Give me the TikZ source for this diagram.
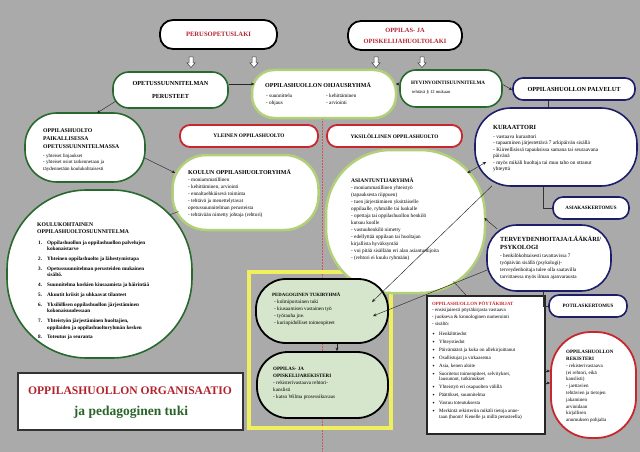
\documentclass[tikz,border=0pt]{standalone}
\usepackage{fontspec}
\setmainfont{Liberation Serif}
\newfontfamily\symf{DejaVu Sans}
\usetikzlibrary{arrows.meta}
\definecolor{bg}{RGB}{170,170,170}
\definecolor{dkgreen}{RGB}{40,105,45}
\definecolor{ltgreen}{RGB}{178,208,120}
\definecolor{navy}{RGB}{28,30,105}
\definecolor{myred}{RGB}{200,40,45}
\definecolor{pedfill}{RGB}{214,230,204}
\definecolor{yel}{RGB}{240,240,95}
\definecolor{titlered}{RGB}{178,34,45}
\definecolor{titlegreen}{RGB}{40,100,40}
\newcommand{\bl}{\makebox[7pt][l]{{\symf\fontsize{3.6}{4}\selectfont ✦}}}
\begin{document}
\begin{tikzpicture}[x=1pt,y=-1pt,
  bx/.style={fill=white, inner sep=0pt, line width=1.6pt},
  lawb/.style={bx, draw=black, line width=1.8pt},
  dgb/.style={bx, draw=dkgreen},
  lgb/.style={bx, draw=ltgreen, line width=2.5pt},
  nvb/.style={bx, draw=navy},
  rdb/.style={bx, draw=myred, line width=1.8pt},
  pedb/.style={fill=pedfill, draw=black, line width=1.8pt, inner sep=0pt},
  it/.style={anchor=north west, align=left, inner sep=0pt, font=\fontsize{5.2}{7}\selectfont},
  tt/.style={anchor=north west, align=left, inner sep=0pt, font=\bfseries\fontsize{6}{7.5}\selectfont},
  con/.style={-{Stealth[length=3.5pt,width=3pt]}, line width=0.45pt, draw=black!85},
  dcon/.style={{Stealth[length=3.5pt,width=3pt]}-{Stealth[length=3.5pt,width=3pt]}, line width=0.45pt, draw=black!85},
  ln/.style={line width=0.45pt, draw=black!80},
  sepline/.style={draw=myred!80, line width=0.5pt, dash pattern=on 1.5pt off 1.5pt},
  harrow/.pic={\draw[fill=white, draw=black!75, line width=0.5pt] (-2,0) -- (2,0) -- (2,6) -- (4,6) -- (0,10.5) -- (-4,6) -- (-2,6) -- cycle;}
]
\fill[bg] (0,0) rectangle (640,452);
\useasboundingbox (0,0) rectangle (640,452);
\coordinate (septop) at (322,118);
\coordinate (sepbot) at (322,452);
\draw[sepline] (septop) -- (sepbot);
\draw[draw=yel, line width=3.5pt] (249,272) rectangle (391,428);

% laws
\node[lawb, minimum width=117pt, minimum height=29pt, rounded corners=13pt, font=\bfseries\fontsize{6.6}{7}\selectfont, text=titlered] (perus) at (218.5,34.5) {PERUSOPETUSLAKI};
\node[lawb, minimum width=114pt, minimum height=29pt, rounded corners=13pt, align=center, font=\bfseries\fontsize{6.4}{11}\selectfont, text=titlered] (oppilaki) at (405,35.5) {OPPILAS- JA\\OPISKELIJAHUOLTOLAKI};
\pic at (191,57) {harrow};
\pic at (254,57) {harrow};
\pic at (376,57) {harrow};
\pic at (422,57) {harrow};

% boxes
\node[dgb, minimum width=115pt, minimum height=36pt, rounded corners=16pt, align=center, font=\bfseries\fontsize{6.2}{13}\selectfont] (perusteet) at (170.5,90) {OPETUSSUUNNITELMAN\\PERUSTEET};
\node[lgb, minimum width=144pt, minimum height=48pt, rounded corners=22pt] (ohjaus) at (324,94) {};
\node[dgb, minimum width=102pt, minimum height=37pt, rounded corners=16pt] (hyvin) at (451,88.5) {};
\node[nvb, minimum width=122pt, minimum height=22pt, rounded corners=10pt, font=\bfseries\fontsize{6.2}{7}\selectfont] (palvelut) at (574,89) {OPPILASHUOLLON PALVELUT};
\node[nvb, minimum width=162pt, minimum height=78pt, rounded corners=36pt] (kura) at (556,147) {};
\node[nvb, minimum width=76pt, minimum height=22pt, rounded corners=10pt, font=\bfseries\fontsize{5}{6}\selectfont] (asiakas) at (591,208) {ASIAKASKERTOMUS};
\node[nvb, minimum width=124pt, minimum height=66pt, rounded corners=30pt] (terv) at (549,258) {};
\node[nvb, minimum width=78pt, minimum height=22pt, rounded corners=10pt, font=\bfseries\fontsize{5}{6}\selectfont] (potilas) at (588,306) {POTILASKERTOMUS};
\node[rdb, minimum width=138pt, minimum height=22pt, rounded corners=10pt, font=\bfseries\fontsize{5.3}{6}\selectfont] (yleinen) at (249,136) {YLEINEN OPPILASHUOLTO};
\node[rdb, minimum width=135pt, minimum height=22pt, rounded corners=10pt, font=\bfseries\fontsize{5.3}{6}\selectfont] (yksil) at (394.5,136) {YKSILÖLLINEN OPPILASHUOLTO};
\node[lgb, minimum width=146pt, minimum height=75pt, rounded corners=34pt] (koulun) at (245.5,192.5) {};
\node[dgb, minimum width=120pt, minimum height=69pt, rounded corners=32pt] (paikal) at (85,147.5) {};
\node[dgb, minimum width=185pt, minimum height=168pt, rounded corners=80pt] (kk) at (99.5,274) {};
\node[lgb, minimum width=159pt, minimum height=143pt, rounded corners=65pt] (asiant) at (405.5,221.5) {};
\node[pedb, minimum width=132pt, minimum height=64pt, rounded corners=30pt] (pedag) at (322,311) {};
\node[pedb, minimum width=131pt, minimum height=66pt, rounded corners=31pt] (oppreg) at (322.5,385) {};
\node[draw=black!85, line width=1.8pt, fill=white, inner sep=0pt, minimum width=118pt, minimum height=138pt] (poyta) at (486,365) {};
\node[rdb, minimum width=85pt, minimum height=106pt, rounded corners=40pt] (rekist) at (593.5,385) {};
\node[draw=black!80, line width=1.6pt, fill=white, inner sep=0pt, minimum width=225pt, minimum height=57pt] (titlebox) at (130.5,401.5) {};

% connectors
\draw[con] ([shift={(0,-6)}]perusteet.east) -- ([shift={(3.6,-10)}]ohjaus.west);
\draw[con] ([shift={(0,-4.5)}]hyvin.west) -- ([shift={(-1.5,-10)}]ohjaus.east);
\draw[con] ([shift={(0,-4)}]hyvin.east) -- ([shift={(0,1)}]palvelut.west);
\draw[ln] ([shift={(-26,0)}]palvelut.south) -- ([shift={(-8,0)}]kura.north);
\draw[ln] ([shift={(-13,0)}]kura.south) |- (asiakas.west);
\draw[ln] ([shift={(-6,0)}]terv.south) |- (potilas.west);
\draw[dcon] ([shift={(-19,-48.5)}]asiant.east) -- ([shift={(12,15)}]kura.west);
\draw[con] ([shift={(11,-29)}]terv.west) -- ([shift={(-2,-3.5)}]asiant.east);
\draw[con] ([shift={(-64,-1)}]kura.south) -- ([shift={(50,-9)}]pedag.center);
\draw[con] ([shift={(1,12)}]terv.west) -- ([shift={(51,5)}]pedag.center);
\draw[ln] ([shift={(48,60)}]asiant.center) -- ([shift={(-20,0)}]poyta.north);
\draw[con] ([shift={(0,6)}]poyta.east) -- ([shift={(0,-14)}]rekist.west);
\draw[con] ([shift={(0,18)}]poyta.east) -- ([shift={(0,-2)}]rekist.west);
\draw[con] ([shift={(-1,10.5)}]paikal.east) -- ([shift={(4,-19.5)}]koulun.west);
\draw[con] ([shift={(-54.5,11)}]perusteet.center) -- ([shift={(12,-34.5)}]paikal.center);
\draw[ln] ([shift={(70,-59)}]kk.center) -- ([shift={(-67,19)}]koulun.center);
\draw[con] ([shift={(15,0)}]pedag.south) -- ([shift={(14.5,0)}]oppreg.north);

% texts
\node[tt] (ohjT) at (265,82.3) {\strut OPPILASHUOLLON OHJAUSRYHMÄ};
\node[it] (ohjA) at (266,92.1) {\strut- suunnittelu\\- ohjaus};
\node[it] (ohjB) at (326,92.1) {\strut- kehittäminen\\- arviointi};

\node[tt, font=\bfseries\fontsize{5.1}{6}\selectfont] (hyvT) at (411,79.8) {\strut HYVINVOINTISUUNNITELMA};
\node[it, font=\fontsize{4.6}{6}\selectfont] (hyvA) at (412,89) {\strut tehtävä § 12 mukaan};

\node[tt, font=\bfseries\fontsize{6.3}{7.5}\selectfont] (kuraT) at (493,123.7) {\strut KURAATTORI};
\node[it, font=\fontsize{5.3}{6.5}\selectfont] (kuraA) at (493,133.5) {\strut- vastaava kuraattori\\- tapaaminen järjestettävä 7 arkipäivän sisällä\\- Kiireellisissä tapauksissa samana tai seuraavana\\päivänä\\- myös mikäli huoltaja tai muu taho on ottanut\\yhteyttä};

\node[tt, font=\bfseries\fontsize{6.3}{8}\selectfont] (tervT) at (500,235.4) {\strut TERVEYDENHOITAJA/LÄÄKÄRI/\\PSYKOLOGI};
\node[it] (tervA) at (500,252.1) {\strut- henkilökohtaisesti tavattavissa 7\\työpäivän sisällä (psykologi)-\\terveydenhoitaja tulee olla saatavilla\\tarvittaessa myös ilman ajanvarausta};

\node[tt] (koulT) at (188,168.75) {\strut KOULUN OPPILASHUOLTORYHMÄ};
\node[it] (koulA) at (188,176.1) {\strut- moniammatillinen\\- kehittäminen, arviointi\\- ennaltaehkäisevä toiminta\\- tehtävä ja menettelytavat\\opetussuunnitelman perusteista\\- tehtävään nimetty johtaja (rehtori)};

\node[tt, font=\bfseries\fontsize{5.7}{8}\selectfont] (paikT) at (43,126.4) {\strut OPPILASHUOLTO\\PAIKALLISESSA\\OPETUSSUUNNITELMASSA};
\node[it, font=\fontsize{5}{6.5}\selectfont] (paikA) at (43,152.45) {\strut- yhteiset linjaukset\\- yhteiset osiot tarkennetaan ja\\täydennetään koulukohtaisesti};

\node[tt, font=\bfseries\fontsize{5.7}{7}\selectfont] (kkT) at (37,221.1) {\strut KOULUKOHTAINEN\\OPPILASHUOLTOSUUNNITELMA};
\node[it, font=\bfseries\fontsize{5.2}{6.5}\selectfont] (kkA) at (38,239.45) {\strut\makebox[9pt][l]{1.}Oppilashuollon ja oppilashuollon palvelujen\\\hspace*{9pt}kokonaistarve\\[3.3pt]
\makebox[9pt][l]{2.}Yhteinen oppilashuolto ja lähestymistapa\\[3.3pt]
\makebox[9pt][l]{3.}Opetussuunnitelman perusteiden mukainen\\\hspace*{9pt}sisältö.\\[3.3pt]
\makebox[9pt][l]{4.}Suunnitelma koskien kiusaamista ja häirintää\\[3.3pt]
\makebox[9pt][l]{5.}Akuutit kriisit ja uhkaavat tilanteet\\[3.3pt]
\makebox[9pt][l]{6.}Yksilöllisen oppilashuollon järjestäminen\\\hspace*{9pt}kokonaisuudessaan\\[3.3pt]
\makebox[9pt][l]{7.}Yhteistyön järjestäminen huoltajien,\\\hspace*{9pt}oppilaiden ja oppilashuoltoryhmän kesken\\[3.3pt]
\makebox[9pt][l]{8.}Toteutus ja seuranta};

\node[tt, font=\bfseries\fontsize{5.5}{7}\selectfont] (asT) at (351,177.25) {\strut ASIANTUNTIJARYHMÄ};
\node[it] (asA) at (351,184.6) {\strut- moniammatillinen yhteistyö\\(tapauksesta riippuen)\\- tuen järjestäminen yksittäiselle\\oppilaalle, ryhmälle tai luokalle\\- opettaja tai oppilashuollon henkilö\\kutsuu koolle\\- vastuuhenkilö nimetty\\- edellyttää oppilaan tai huoltajan\\kirjallista hyväksyntää\\- voi pitää sisällään eri alan asiantuntijoita\\- (rehtori ei kuulu ryhmään)};

\node[tt, font=\bfseries\fontsize{4.8}{6}\selectfont] (pedT) at (272,291.8) {\strut PEDAGOGINEN TUKIRYHMÄ};
\node[it] (pedA) at (274,298.6) {\strut- kolmiportainen tuki\\- kiusaamisen vastainen työ\\- työrauha jne.\\- kurinpidolliset toimenpiteet};

\node[tt, font=\bfseries\fontsize{5}{7}\selectfont] (oprT) at (273,365.1) {\strut OPPILAS- JA\\OPISKELIJAREKISTERI};
\node[it] (oprA) at (273,379.1) {\strut- rekisterivastaava rehtori-\\kanslisti\\- katso Wilma prosessikuvaus};

\node[tt, font=\bfseries\fontsize{4.8}{6}\selectfont, text=myred] (pkT) at (432,300.8) {\strut OPPILASHUOLLON PÖYTÄKIRJAT};
\node[it, font=\fontsize{5}{7}\selectfont] (pkA) at (432,306.1) {\strut- ensisijaisesti pöytäkirjasta vastaava\\- juokseva \& kronologinen numerointi\\- sisältö:};
\node[it, font=\fontsize{5}{5.5}\selectfont] (pkB) at (432,331.2) {\strut\bl Henkilötiedot\\[2.5pt]
\bl Yhteystiedot\\[2.5pt]
\bl Päivämäärä ja kuka on allekirjoittanut\\[2.5pt]
\bl Osallistujat ja virkaasema\\[2.5pt]
\bl Asia, kenen aloite\\[2.5pt]
\bl Suoritetut toimenpiteet, selvitykset,\\\hspace*{7pt}lausunnot, tutkimukset\\[2.5pt]
\bl Yhteistyö eri osapuolten välillä\\[2.5pt]
\bl Päätökset, suunnitelma\\[2.5pt]
\bl Vastuu toteutuksesta\\[2.5pt]
\bl Merkintä rekisteriin mikäli tietoja anne-\\\hspace*{7pt}taan (huom! Kenelle ja millä perusteella)};

\node[tt, font=\bfseries\fontsize{5}{7}\selectfont] (rkT) at (566,348.1) {\strut OPPILASHUOLLON\\REKISTERI};
\node[it, font=\fontsize{5}{6.8}\selectfont] (rkA) at (566,362.24) {\strut- rekisterivastaava\\(ei rehtori, eikä\\kanslisti)\\- jaettavien\\tehtävien ja tietojen\\jakaminen\\arvioidaan\\kirjallisen\\anomuksen pohjalta};

\node[font=\bfseries\fontsize{11.6}{13}\selectfont, text=titlered, inner sep=0pt] (t1) at (130,391) {OPPILASHUOLLON ORGANISAATIO};
\node[font=\bfseries\fontsize{13.5}{15}\selectfont, text=titlegreen, inner sep=0pt] (t2) at (131,412) {ja pedagoginen tuki};
\end{tikzpicture}
\end{document}
